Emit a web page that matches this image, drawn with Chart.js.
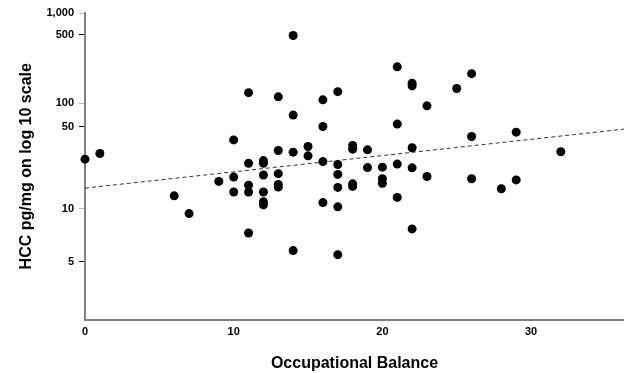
<!DOCTYPE html>
<html>
<head>
<meta charset="utf-8">
<script src="https://cdn.jsdelivr.net/npm/chart.js@4/dist/chart.umd.min.js"></script>
<style>
  html, body { margin: 0; padding: 0; background: #fff; }
  #wrap { width: 624px; height: 373px; }
</style>
</head>
<body>
<div id="wrap"><canvas id="grafico" width="624" height="373"></canvas></div>
<script>
// DADOS
const balance = [0, 1, 6, 7, 9, 10, 10, 10, 11, 11, 11, 11, 11, 12, 12, 12, 12, 12, 12,
  13, 13, 13, 13, 13, 14, 14, 14, 14, 15, 15, 16, 16, 16, 16, 17, 17, 17, 17, 17, 17,
  18, 18, 18, 18, 19, 19, 20, 20, 20, 21, 21, 21, 21, 22, 22, 22, 22, 22, 23, 23, 25,
  26, 26, 26, 28, 29, 29, 32];
const hcc = [26.4, 29.5, 12.9, 9.4, 17.1, 38.5, 18.6, 13.9, 128, 24.4, 15.9, 13.9, 7.3,
  25.7, 24.4, 19.4, 13.9, 11.5, 10.8, 116, 31.3, 19.9, 16.1, 15.3, 492, 70.1, 30.3, 5.8,
  33.8, 28.2, 108, 50, 25.2, 11.3, 131, 23.8, 19.6, 15.2, 10.4, 5.5, 34.5, 32.1, 16.3, 15.5,
  31.7, 22.4, 22.6, 18.0, 16.5, 235, 53.7, 24.0, 12.5, 160, 150, 33.0, 22.3, 7.7, 92.3, 18.8,
  141, 200, 41.1, 18.0, 14.8, 44.8, 17.6, 30.5];

// linha de tendência (extremos)
const trendX = [0, 36.25];
const trendY = [15.0, 47.5];

// eixos
const xTicks = [0, 10, 20, 30];
const yTickValues = [5, 10, 50, 100, 500, 1000];
const yTickLevels = [0.563, 1.083, 1.889, 2.118, 2.787, 3.0]; // onde cada rótulo cai no eixo
const yMajor = [10, 100, 1000];

// valor em pg/mg -> posição no eixo (interpolação entre os rótulos, em log10)
function level(v) {
  const L = Math.log10(v);
  const logs = yTickValues.map(t => Math.log10(t));
  let i = 0;
  while (i < logs.length - 2 && L > logs[i + 1]) i++;
  const f = (L - logs[i]) / (logs[i + 1] - logs[i]);
  return yTickLevels[i] + f * (yTickLevels[i + 1] - yTickLevels[i]);
}

const points = balance.map((x, i) => ({ x: x, y: level(hcc[i]) }));
const trend = trendX.map((x, i) => ({ x: x, y: level(trendY[i]) }));

const fonte = "Arial, 'Liberation Sans', sans-serif";

const config = {
  type: "scatter",
  data: {
    datasets: [
      {
        label: "HCC",
        data: points,
        backgroundColor: "#000",
        borderColor: "#000",
        pointRadius: 4.5,
        borderWidth: 0,
        clip: false,
        order: 1,
      },
      {
        label: "Tendência",
        data: trend,
        showLine: true,
        borderColor: "#333",
        borderWidth: 1,
        borderDash: [4, 3],
        pointRadius: 0,
        order: 2,
      },
    ],
  },
  options: {
    responsive: false,
    animation: false,
    devicePixelRatio: 1,
    layout: { autoPadding: false, padding: { top: 13, right: 0, left: 0, bottom: 0 } },
    plugins: { legend: { display: false }, tooltip: { enabled: false } },
    scales: {
      x: {
        type: "linear",
        min: 0,
        max: 36.25,
        afterFit: (s) => {
          s.height = 53.5;
          s.paddingLeft = 0;
          s.paddingRight = 0;
        },
        afterBuildTicks: (s) => { s.ticks = xTicks.map(v => ({ value: v })); },
        grid: { display: false, drawTicks: false },
        border: { display: true, color: "#808080", width: 2 },
        ticks: {
          color: "#000",
          padding: 6,
          maxRotation: 0,
          font: { family: fonte, size: 11, weight: "bold" },
        },
        title: {
          display: true,
          text: "Occupational Balance",
          color: "#000",
          padding: { top: 0, bottom: 0 },
          font: { family: fonte, size: 16, weight: "bold" },
        },
      },
      y: {
        type: "linear",
        min: 0,
        max: 3,
        afterFit: (s) => {
          s.width = 85;
          s.paddingTop = 0;
          s.paddingBottom = 0;
        },
        afterBuildTicks: (s) => { s.ticks = yTickLevels.map(v => ({ value: v })); },
        grid: {
          drawOnChartArea: false,
          drawTicks: true,
          tickLength: 6,
          tickWidth: 1,
          tickColor: (ctx) => {
            const i = yTickLevels.indexOf(ctx.tick.value);
            return yMajor.includes(yTickValues[i]) ? "#bbbbbb" : "#000";
          },
        },
        border: { display: true, color: "#808080", width: 2 },
        ticks: {
          color: "#000",
          padding: 5,
          font: { family: fonte, size: 11, weight: "bold" },
          callback: (value) => {
            const i = yTickLevels.indexOf(value);
            return i < 0 ? "" : yTickValues[i].toLocaleString("en-US");
          },
        },
        title: {
          display: true,
          text: "HCC pg/mg on log 10 scale",
          color: "#000",
          padding: { top: 16.5, bottom: 0 },
          font: { family: fonte, size: 16, weight: "bold" },
        },
      },
    },
  },
};

new Chart(document.getElementById("grafico"), config);
</script>
</body>
</html>
